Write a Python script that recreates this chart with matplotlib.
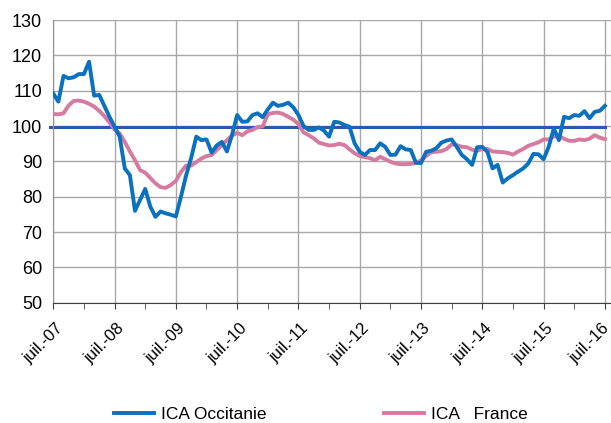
"""ICA Occitanie vs ICA France, monthly index Jul 2007 - Jul 2016."""
import matplotlib

matplotlib.use("Agg")
import matplotlib.pyplot as plt  # noqa: E402
import matplotlib.transforms as mtransforms  # noqa: E402
import numpy as np  # noqa: E402

plt.rcParams["font.family"] = ["Liberation Sans", "DejaVu Sans"]

# monthly values, juil.-07 .. juil.-16 (109 months)
ICA_OCCITANIE = [
    109.2, 106.9, 114.2, 113.5, 113.8, 114.7, 114.7, 118.2, 108.6, 108.8,
    105.7, 102.6, 99.8, 97.0, 88.0, 86.1, 76.0, 79.1, 82.2, 77.2,
    74.3, 75.8, 75.3, 74.9, 74.4, 80.0, 86.0, 91.0, 97.0, 96.0,
    96.2, 92.5, 94.5, 95.5, 92.8, 97.5, 103.1, 101.2, 101.3, 103.1,
    103.6, 102.5, 104.7, 106.6, 105.7, 106.0, 106.6, 105.3, 103.1, 100.0,
    98.9, 98.9, 99.6, 98.7, 97.0, 101.2, 101.0, 100.3, 99.8, 95.1,
    92.7, 91.8, 93.2, 93.2, 95.1, 94.1, 91.8, 91.9, 94.3, 93.4,
    93.2, 89.6, 89.5, 92.7, 93.0, 93.7, 95.3, 95.9, 96.2, 94.1,
    91.8, 90.6, 89.0, 94.0, 94.1, 92.7, 88.0, 89.0, 84.0, 85.2,
    86.1, 87.1, 88.0, 89.4, 92.1, 92.0, 90.6, 94.1, 99.3, 96.0,
    102.6, 102.2, 103.1, 102.9, 104.2, 102.2, 104.0, 104.3, 105.7,
]
ICA_FRANCE = [
    103.4, 103.3, 103.6, 105.8, 107.1, 107.2, 106.9, 106.3, 105.5, 104.3,
    102.8, 101.0, 99.0, 97.9, 95.5, 92.8, 90.3, 87.5, 86.8, 85.3,
    83.8, 82.7, 82.5, 83.3, 84.5, 87.0, 88.8, 88.8, 89.8, 90.8,
    91.5, 91.8, 93.2, 94.6, 96.0, 97.3, 98.1, 97.4, 98.5, 98.9,
    99.7, 99.9, 103.3, 103.7, 103.8, 103.4, 102.6, 101.8, 100.5, 98.2,
    97.4, 96.5, 95.3, 94.9, 94.5, 94.6, 95.0, 94.6, 93.4, 92.3,
    91.5, 91.2, 90.9, 90.3, 91.3, 90.6, 89.9, 89.4, 89.2, 89.2,
    89.3, 89.5, 90.3, 91.5, 92.6, 92.7, 92.9, 93.5, 94.8, 94.6,
    94.1, 94.0, 93.3, 93.0, 93.5, 93.5, 92.8, 92.7, 92.6, 92.4,
    91.9, 92.8, 93.5, 94.4, 94.9, 95.4, 96.2, 96.2, 97.0, 97.2,
    96.4, 95.8, 95.8, 96.2, 96.0, 96.4, 97.4, 96.7, 96.3,
]
BASE_LINE = 99.6
YEAR_LABELS = ["juil.-07", "juil.-08", "juil.-09", "juil.-10", "juil.-11",
               "juil.-12", "juil.-13", "juil.-14", "juil.-15", "juil.-16"]

BLUE = "#0a70c0"
PINK = "#d77a9f"
NAVY = "#2c5aa3"
GRID = "#a8a8a8"

months = np.arange(len(ICA_OCCITANIE))

fig = plt.figure(figsize=(6.11, 4.23), dpi=100)
ax = fig.add_axes([0.0872, 0.2844, 0.9128, 0.6683])

ax.set_xlim(0, 109.2)
ax.set_ylim(50, 130)
ax.set_yticks(range(50, 131, 10))
ax.set_xticks(np.arange(0, 109, 12))
ax.set_xticks(np.arange(6, 109, 12), minor=True)
ax.set_xticklabels(YEAR_LABELS, rotation=45, ha="right", va="top",
                   rotation_mode="anchor", fontsize=12)
ax.tick_params(axis="y", length=0, labelsize=13, pad=8)
ax.tick_params(axis="x", which="both", length=4, color="#404040", pad=9)
# nudge the slanted labels right so they end just past their tick;
# the last one stays inside the figure edge
labels = ax.get_xticklabels()
for i, lab in enumerate(labels):
    dx = 2 if i < len(labels) - 1 else -3
    shift = mtransforms.ScaledTranslation(dx / 100, 0, fig.dpi_scale_trans)
    lab.set_transform(lab.get_transform() + shift)
ax.grid(True, which="major", color=GRID, lw=1.0)
ax.set_axisbelow(True)
for s in ("top", "right"):
    ax.spines[s].set_visible(False)
ax.spines["left"].set_color("#909090")
ax.spines["bottom"].set_color("#404040")

ax.plot([-0.6, 108], [BASE_LINE, BASE_LINE], color=NAVY, lw=2.2,
        clip_on=False, zorder=2)
l_occ, = ax.plot(months, ICA_OCCITANIE, color=BLUE, lw=2.8, zorder=4)
l_fr, = ax.plot(months, ICA_FRANCE, color=PINK, lw=2.8, zorder=3)

fig.legend([l_occ, l_fr], ["ICA Occitanie", "ICA   France"], loc="center",
           bbox_to_anchor=(0.525, 0.02), ncol=2, frameon=False, fontsize=12.5,
           handlelength=2.3, handletextpad=0.4, columnspacing=6.8)

fig.savefig("out.png", dpi=100)
